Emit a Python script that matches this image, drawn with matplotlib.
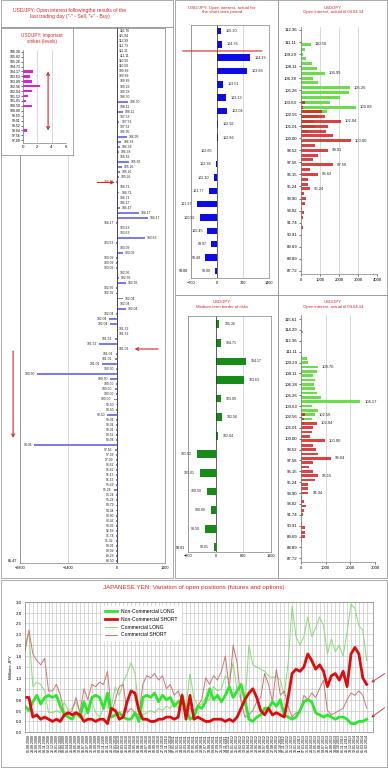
import matplotlib
matplotlib.use("Agg")
import matplotlib.pyplot as plt
from matplotlib.patches import Rectangle, FancyArrowPatch
from matplotlib.lines import Line2D
import numpy as np
import pandas as pd

plt.rcParams['font.family'] = ['Liberation Sans', 'DejaVu Sans']

W, H = 388, 768
RED = '#d02828'
GRID = '#c8c8c8'
FRAME = '#9c9c9c'
SPINE = '#808080'

#%% data -------------------------------------------------------------
# last trading day: open interest by strike ("-" sell, "+" buy)
day_strikes = [
    '116.76', '115.84', '112.99', '111.73', '111.11', '111.11', '110.50', '110.50', '109.89', '109.89',
    '109.89', '109.29', '109.29', '108.70', '108.70', '108.11', '108.11', '107.53', '107.53', '107.53',
    '106.95', '106.95', '106.38', '106.38', '106.38', '105.82', '105.82', '105.26', '105.26', '105.26',
    '105.26', '104.71', '104.71', '104.71', '104.17', '104.17', '104.17', '104.17', '104.17', '103.63',
    '103.63', '103.63', '103.63', '103.09', '103.09', '103.09', '103.09', '103.09', '102.56', '102.56',
    '102.56', '102.56', '102.56', '102.04', '102.04', '102.04', '102.04', '102.04', '102.04', '101.52',
    '101.52', '101.52', '101.52', '101.01', '101.01', '101.01', '101.01', '100.50', '100.50', '100.50',
    '100.00', '100.00', '100.00', '100.00', '99.50', '99.50', '99.50', '99.01', '99.01', '99.01',
    '98.52', '98.04', '98.04', '97.56', '97.09', '97.09', '96.62', '96.62', '96.15', '96.15',
    '95.69', '95.24', '95.24', '95.24', '94.79', '94.34', '93.90', '93.46', '93.02', '92.59',
    '91.74', '91.32', '90.91', '90.09', '89.29', '88.50']
day_oi = [
    15, 10, 10, 10, 10, 20, 10, 10, 10, 10,
    20, 40, 20, 20, 320, 20, 170, 20, 80, 30,
    20, 300, 130, 100, 60, 20, 350, 150, 100, 60,
    -20, 20, 80, 40, 40, 100, 640, 900, -10, 20,
    20, 820, -10, 20, 170, -10, -20, -20, 20, 60,
    260, -10, -20, 180, 30, 260, -20, -230, -180, 10,
    10, -60, -520, 10, -30, -60, -420, -10, -2310, -200,
    -10, -60, -10, -90, -10, -10, -270, -10, -10, -10,
    -10, -20, -2390, -60, -10, -30, -10, -10, -10, -10,
    -10, -80, -10, -10, -10, -10, -10, -10, -10, -10,
    -10, -30, -10, -10, -10, -10]
day_bottom_tick = '85.47'

# important strikes (levels)
imp_strikes = ['106.38', '105.82', '105.26', '104.71', '104.17', '103.63', '103.09', '102.56', '102.04',
               '101.52', '101.01', '100.50', '100.00', '99.50', '99.01', '98.52', '98.04', '97.56', '97.09']
imp_counts = [0, 0, 0, 0, 1.4, 1.0, 1.2, 2.4, 1.3, 0.7, 0.4, 1.25, 0, 0, 0, 0, 0.55, 0, 0]

# short-term period
short_strikes = ['105.30', '104.76', '104.29', '103.86', '103.51', '103.23', '103.04', '102.92', '102.86',
                 '102.65', '102.38', '102.10', '101.77', '101.37', '100.92', '100.45', '99.97', '99.48', '99.00']
short_oi = [110, 130, 900, 820, 170, 250, 270, 20, 20, -10, -40, -90, -210, -540, -470, -260, -160, -320, -50]

# medium-term border of risks
med_strikes = ['105.26', '104.71', '104.17', '103.63', '103.09', '102.56', '102.04',
               '101.52', '101.01', '100.50', '100.00', '99.50', '99.01']
med_oi = [100, 140, 870, 810, 140, 180, 60, -540, -450, -260, -140, -310, -40]

# open interest, actual til 04.04.14 (upper panel)
oi1_ticks = ['112.36', '111.11', '109.29', '108.11', '106.38', '105.26', '103.63', '102.56', '101.01', '100.00',
             '98.52', '97.56', '96.15', '95.24', '93.90', '93.02', '91.74', '90.91', '89.69', '88.89', '87.72']
oi1_calls = [20, 15, 20, 520, 220, 140, 300, 570, 830, 1260, 650, 910, 2550, 2500, 2030, 1520, 2900,
             1360, 900, 700, 740, 400, 0, 0, 0, 0, 0, 0, 0, 0, 0, 0, 0, 0, 0, 0, 0, 0, 0, 0, 0,
             0, 0, 0, 0, 0, 0, 0, 0, 0, 0]
oi1_puts = [0, 0, 0, 0, 0, 0, 0, 0, 0, 0, 0, 0, 0, 0, 0, 220, 130, 1120, 1260, 2120, 1430, 1300,
            1690, 2640, 740, 1430, 910, 650, 1690, 480, 910, 360, 360, 500, 190, 260, 220, 60, 150,
            120, 20, 100, 40, 30, 20, 30, 20, 20, 20, 10, 10]
oi1_label_rows = [3, 9, 12, 16, 19, 23, 25, 28, 30, 33]
oi1_label_text = ['110.50', '106.95', '105.26', '103.09', '102.04', '100.00', '99.01', '97.56', '96.62', '95.24']

# open interest, actual til 04.04.14 (lower panel)
oi2_ticks = ['115.61', '114.29', '112.36', '111.11', '109.29', '108.11', '106.38', '105.26', '103.63', '102.56',
             '101.01', '100.00', '98.52', '97.56', '96.15', '95.24', '93.90', '93.02', '91.74', '90.91',
             '89.69', '88.89', '87.72']
oi2_calls = [20, 60, 0, 80, 20, 40, 0, 0, 10, 240, 300, 700, 630, 500, 570, 540, 570, 660, 800, 2410,
             430, 670, 570, 460, 115, 0, 0, 0, 0, 0, 0, 0, 0, 0, 0, 0, 0, 0, 0, 0,
             0, 0, 0, 0, 0, 0, 0, 0, 0, 0, 0, 0, 0, 0, 0, 0]
oi2_puts = [0, 0, 0, 0, 0, 0, 0, 0, 0, 0, 0, 0, 0, 0, 0, 0, 0, 0, 0, 0, 0, 0,
            170, 130, 630, 500, 460, 370, 960, 500, 590, 700, 1220, 500, 340, 500, 700, 570, 280, 300,
            300, 40, 130, 200, 130, 70, 20, 40, 170, 170, 150, 30, 20, 10, 10, 10]
oi2_label_rows = [11, 19, 22, 24, 28, 32, 36, 40]
oi2_label_text = ['108.70', '104.17', '102.56', '102.04', '100.00', '98.04', '96.15', '94.34']

# COT: variation of open positions, millions JPY
cot_dates = pd.date_range('2008-08-05', '2014-03-25', periods=87).strftime('%d.%m.%Y')
nc_long = [0.6, 0.5, 0.7, 0.85, 0.65, 0.8, 0.85, 0.8, 0.85, 0.6,
           0.4, 0.35, 0.3, 0.45, 0.35, 0.7, 0.45, 0.8, 0.85, 0.8,
           0.55, 0.9, 0.35, 0.4, 0.45, 0.35, 0.3, 0.3, 0.45, 0.25,
           0.8, 0.85, 0.8, 0.9, 0.7, 0.85, 0.75, 0.8, 0.6, 0.7,
           0.75, 0.55, 0.3, 0.35, 0.6, 0.55, 0.7, 1.0, 0.75, 0.85,
           0.7, 0.85, 1.05, 0.8, 0.95, 1.1, 0.75, 0.3, 0.25, 0.35,
           0.4, 0.55, 0.55, 0.7, 0.6, 0.75, 0.4, 0.35, 0.3, 0.35,
           0.5, 0.7, 0.75, 0.7, 0.45, 0.4, 0.35, 0.4, 0.35, 0.3,
           0.35, 0.35, 0.3, 0.2, 0.2, 0.25, 0.25, 0.3]
nc_short = [0.8, 0.8, 0.35, 0.4, 0.3, 0.35, 0.3, 0.25, 0.3, 0.25,
            0.4, 0.45, 0.4, 0.45, 0.4, 0.25, 0.3, 0.3, 0.25, 0.3,
            0.3, 0.2, 0.55, 0.5, 0.3, 0.35, 0.7, 0.95, 0.9, 0.5,
            0.3, 0.3, 0.25, 0.25, 0.3, 0.3, 0.35, 0.35, 0.3, 0.35,
            0.85, 0.3, 0.85, 0.3, 0.35, 0.3, 0.25, 0.25, 0.3, 0.3,
            0.3, 0.25, 0.3, 0.25, 0.35, 0.55, 0.75, 0.9, 1.0, 0.8,
            0.5, 0.4, 0.55, 0.4, 0.45, 0.4, 0.35, 0.8, 1.35, 1.45,
            1.4, 1.5, 1.8, 1.65, 1.45, 1.55, 1.4, 1.05, 1.3, 1.35,
            1.2, 1.4, 1.05, 1.8, 1.95, 1.8, 1.25, 1.1]
com_long = [2.0, 2.3, 1.05, 1.15, 1.1, 0.95, 0.45, 0.45, 0.5, 0.45,
            0.7, 0.5, 0.55, 0.7, 0.45, 0.35, 0.55, 0.7, 0.45, 0.35,
            0.55, 0.8, 0.6, 1.05, 0.85, 1.15, 1.35, 1.6, 1.35, 0.55,
            0.4, 0.45, 0.5, 0.45, 0.55, 0.5, 0.6, 0.55, 0.7, 0.55,
            0.9, 0.6, 1.35, 0.8, 0.6, 0.65, 0.8, 0.75, 1.05, 0.95,
            1.0, 1.3, 1.2, 1.6, 0.95, 0.75, 0.6, 2.0, 1.55, 1.5,
            1.45, 1.4, 1.3, 1.25, 1.3, 1.2, 0.85, 1.6, 2.9, 2.2,
            2.0, 2.2, 2.65, 2.2, 2.4, 2.65, 2.45, 1.8, 2.15, 1.85,
            2.0, 1.75, 2.3, 2.95, 2.85, 2.45, 2.35, 1.65]
com_short = [1.85, 2.35, 1.8, 1.65, 1.55, 1.7, 0.95, 0.95, 1.1, 0.85,
             0.45, 0.4, 0.5, 0.8, 0.45, 1.0, 0.75, 1.1, 1.05, 1.15,
             1.1, 1.4, 0.45, 0.75, 1.05, 1.1, 0.45, 0.55, 0.45, 0.4,
             1.1, 1.3, 1.25, 1.35, 1.2, 1.3, 1.0, 1.1, 0.85, 0.95,
             0.7, 0.55, 0.55, 0.5, 0.6, 0.75, 1.25, 1.1, 1.3, 1.2,
             1.4, 1.75, 1.0, 2.0, 1.6, 0.7, 0.35, 0.4, 0.5, 0.7,
             0.8, 1.35, 1.1, 0.7, 1.45, 0.85, 0.95, 0.6, 0.35, 0.45,
             0.45, 0.85, 0.75, 0.9, 0.8, 1.0, 1.2, 0.5, 0.4, 0.45,
             0.5, 0.55, 0.75, 0.9, 0.85, 0.95, 0.85, 0.55]
cot_yticks = [0, 0.25, 0.5, 0.75, 1.0, 1.25, 1.5, 1.75, 2.0, 2.25, 2.5, 2.75, 3.0]
cot_yticklabels = ['0,0', '0,3', '0,5', '0,8', '1,0', '1,3', '1,5', '1,8', '2,0', '2,3', '2,5', '2,8', '3,0']

#%% helpers ----------------------------------------------------------
fig = plt.figure(figsize=(W / 100, H / 100), dpi=100)
fig.patch.set_facecolor('white')


def px_axes(x0, y0, x1, y1, z=1):
    ax = fig.add_axes([x0 / W, 1 - y1 / H, (x1 - x0) / W, (y1 - y0) / H])
    ax.set_zorder(z)
    return ax


def frame(x0, y0, x1, y1):
    fig.add_artist(Rectangle((x0 / W, 1 - y1 / H), (x1 - x0) / W, (y1 - y0) / H,
                             transform=fig.transFigure, fill=False, ec=FRAME, lw=0.6, zorder=10))


def title(x, y, s, size):
    fig.text(x / W, 1 - y / H, s, ha='center', va='center', color=RED, fontsize=size, linespacing=1.1)


def red_arrow(ax, xy, xytext, style='->'):
    # arrow given in data units of ax, drawn on the figure so nothing hides it
    to_fig = ax.transData + fig.transFigure.inverted()
    a = to_fig.transform(xytext)
    b = to_fig.transform(xy)
    fig.add_artist(FancyArrowPatch(tuple(a), tuple(b), transform=fig.transFigure, arrowstyle=style,
                                   mutation_scale=5, color=RED, lw=0.8, shrinkA=0, shrinkB=0, zorder=12))


def style_spines(ax, which=('left', 'right', 'top', 'bottom')):
    for k, sp in ax.spines.items():
        sp.set_visible(k in which)
        sp.set_color(SPINE)
        sp.set_linewidth(0.5)


def signed_labels(ax, vals, labels, off, size):
    for i, (v, s) in enumerate(zip(vals, labels)):
        if v >= 0:
            ax.text(v + off, i, s, ha='left', va='center', fontsize=size, color='#222222')
        else:
            ax.text(v - off, i, s, ha='right', va='center', fontsize=size, color='#222222')


#%% top-left: last trading day ---------------------------------------
ax = px_axes(20, 28, 165, 563)
rows = np.arange(len(day_oi))
ax.barh(rows, day_oi, height=0.38, color='#7b7bea')
ax.set_xlim(-2800, 1400)
ax.set_ylim(len(rows) - 0.6, -0.6)
ax.set_xticks([-2800, -1400, 0, 1400])
ax.set_yticks([rows[-1]])
ax.set_yticklabels([day_bottom_tick])
ax.tick_params(labelsize=2.7, length=0, pad=2)
ax.grid(axis='x', color=GRID, lw=0.5)
ax.set_axisbelow(True)
ax.axvline(0, color='#303030', lw=0.6)
style_spines(ax)
signed_labels(ax, day_oi, day_strikes, 60, 2.4)
ax.texts[30].set_color(RED)

# inset: important strikes
fr = px_axes(1, 28, 73, 155, z=2)
fr.set_xticks([])
fr.set_yticks([])
style_spines(fr)
axi = px_axes(23, 50, 66, 143, z=3)
irows = np.arange(len(imp_counts))
axi.barh(irows, imp_counts, height=0.5, color='#e020d8')
axi.set_xlim(0, 6)
axi.set_ylim(len(irows) - 0.45, -0.36)
axi.set_xticks([0, 2, 4, 6])
axi.set_yticks(irows)
axi.set_yticklabels(imp_strikes)
axi.tick_params(axis='x', labelsize=3.2, length=0, pad=1.5)
axi.tick_params(axis='y', labelsize=2.5, length=1.2, width=0.4, pad=0.6)
axi.grid(axis='x', color=GRID, lw=0.5)
axi.set_axisbelow(True)
style_spines(axi, ('left', 'bottom'))

title(70, 13.5, 'USD/JPY: Open interest followingthe results of the\nlast trading day ("-" - Sell, "+" - Buy)', 3.6)
title(42, 38.5, 'USD/JPY: Important\nstrikes (levels)', 3.3)

#%% middle column ----------------------------------------------------
axs = px_axes(191, 25, 269, 278)
srows = np.arange(len(short_oi))
axs.barh(srows, short_oi, height=0.48, color='#0c0ce6')
axs.set_xlim(-700, 1400)
axs.set_ylim(18.53, -0.45)
axs.set_xticks([-700, 0, 700, 1400])
axs.set_yticks([srows[-1]])
axs.set_yticklabels([short_strikes[-1]])
axs.tick_params(labelsize=2.7, length=0, pad=2)
axs.grid(axis='x', color=GRID, lw=0.5)
axs.set_axisbelow(True)
axs.axvline(0, color='#303030', lw=0.5)
style_spines(axs)
signed_labels(axs, short_oi, short_strikes, 120, 2.7)
title(222, 10, 'USD/JPY: Open interest, actual for\nthe short-term period', 3.2)

axm = px_axes(188.3, 315.7, 270.7, 551.7)
mrows = np.arange(len(med_oi))
axm.barh(mrows, med_oi, height=0.42, color='#178a17')
axm.set_xlim(-800, 1600)
axm.set_ylim(12.24, -0.46)
axm.set_xticks([-800, 0, 800, 1600])
axm.set_yticks([mrows[-1]])
axm.set_yticklabels([med_strikes[-1]])
axm.tick_params(labelsize=2.7, length=0, pad=2)
axm.grid(axis='x', color=GRID, lw=0.5)
axm.set_axisbelow(True)
axm.axvline(0, color='#303030', lw=0.5)
style_spines(axm)
signed_labels(axm, med_oi, med_strikes, 150, 2.6)
title(222, 304.5, 'USD/JPY:\nMedium-term border of risks', 3.1)

#%% right column -----------------------------------------------------
def oi_panel(ax, calls, puts, ticks, label_rows, label_text, xmax, off):
    r = np.arange(len(calls))
    ax.barh(r, calls, height=0.62, color='#6cdc4c')
    ax.barh(r, puts, height=0.62, color='#d42222', alpha=0.85)
    ax.set_xlim(0, xmax)
    ax.set_xticks(np.arange(0, xmax + 1, 1000))
    ax.set_yticks(np.linspace(0, len(r) - 1, len(ticks)))
    ax.set_yticklabels(ticks)
    ax.tick_params(axis='x', labelsize=3.1, length=1.2, width=0.4, pad=1.5)
    ax.tick_params(axis='y', labelsize=3.1, length=1.2, width=0.4, pad=1.5)
    ax.grid(axis='x', color=GRID, lw=0.5)
    ax.set_axisbelow(True)
    style_spines(ax, ('left', 'bottom'))
    for rr, s in zip(label_rows, label_text):
        ax.text(max(calls[rr], puts[rr]) + off, rr, s, ha='left', va='center', fontsize=3.0, color='#222222')


axr1 = px_axes(300.7, 27, 377.3, 274)
oi_panel(axr1, oi1_calls, oi1_puts, oi1_ticks, oi1_label_rows, oi1_label_text, 4000, 200)
axr1.set_ylim(50.68, -0.62)
title(333, 10, 'USD/JPY\nOpen interest, actual til 04.04.14', 3.1)

axr2 = px_axes(301, 315, 375, 562)
oi_panel(axr2, oi2_calls, oi2_puts, oi2_ticks, oi2_label_rows, oi2_label_text, 3000, 160)
axr2.set_ylim(55.85, -0.92)
title(333, 304.5, 'USD/JPY\nOpen interest, actual til 04.04.14', 3.1)

#%% bottom: COT -------------------------------------------------------
axb = px_axes(25, 601.7, 373, 732.3)
x = np.arange(len(nc_long))
axb.plot(x, com_long, color='#86dc74', lw=0.7)
axb.plot(x, com_short, color='#cc7474', lw=0.7)
axb.plot(x, nc_long, color='#2ee62e', lw=2.0)
axb.plot(x, nc_short, color='#e00a0a', lw=2.0)
axb.set_xlim(0, 88.6)
axb.set_ylim(0, 3)
axb.set_yticks(cot_yticks)
axb.set_yticklabels(cot_yticklabels)
axb.set_xticks(np.arange(1, len(cot_dates) + 1))
axb.set_xticklabels(cot_dates, rotation=90)
axb.tick_params(axis='x', labelsize=2.6, length=0, pad=1.5)
axb.tick_params(axis='y', labelsize=3.2, length=0, pad=2)
axb.grid(True, color=GRID, lw=0.5)
axb.set_axisbelow(True)
style_spines(axb)
axb.set_ylabel('Millions JPY', fontsize=3.2, labelpad=2)
handles = [Line2D([], [], color='#2ee62e', lw=2.0), Line2D([], [], color='#e00a0a', lw=2.0),
           Line2D([], [], color='#86dc74', lw=0.7), Line2D([], [], color='#cc7474', lw=0.7)]
leg = axb.legend(handles, ['Non-Commercial LONG', 'Non-Commercial SHORT', 'Commercial LONG', 'Commercial SHORT'],
                 loc='upper left', bbox_to_anchor=(0.215, 0.985), fontsize=3.6, handlelength=2.4,
                 labelspacing=0.55, borderpad=0.6, fancybox=False, framealpha=1, edgecolor='white')
title(194, 588, 'JAPANESE YEN: Variation of open positions (futures and options)', 4.5)
for y0, y1 in [(672, 684), (706, 719)]:
    fig.add_artist(FancyArrowPatch((387 / W, 1 - y0 / H), (369 / W, 1 - y1 / H), transform=fig.transFigure,
                                   arrowstyle='->', mutation_scale=4, color=RED, lw=0.6, zorder=11))

#%% red pointers (annotations) ----------------------------------------
red_arrow(ax, (-60, 30), (-560, 30))
red_arrow(ax, (520, 63), (1200, 63))
red_arrow(ax, (-3000, 80.6), (-3000, 63.4))
red_arrow(axi, (3.5, 16), (3.5, 4), style='<->')
red_arrow(axs, (1210, 1.5), (-920, 1.5), style='-')

#%% panel frames ------------------------------------------------------
frame(0.5, 0.5, 173, 27)
frame(0.5, 27, 173, 578)
frame(175, 0.5, 278, 295)
frame(175, 295, 278, 578)
frame(278, 0.5, 387, 295)
frame(278, 295, 387, 578)
frame(0.5, 580, 387, 767)

fig.savefig('out.png', dpi=100)
